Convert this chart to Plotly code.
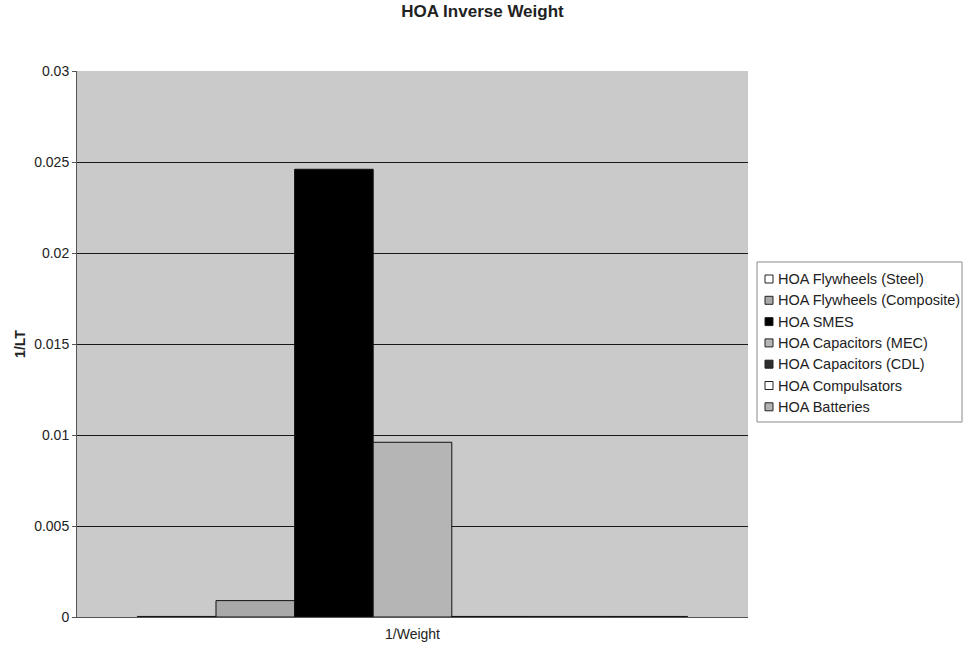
import plotly.graph_objects as go

# Single category on the x axis
categories = ["1/Weight"]

# Series names and their 1/LT values
series_names = [
    "HOA Flywheels (Steel)",
    "HOA Flywheels (Composite)",
    "HOA SMES",
    "HOA Capacitors (MEC)",
    "HOA Capacitors (CDL)",
    "HOA Compulsators",
    "HOA Batteries",
]
series_values = [0.00003, 0.0009, 0.0246, 0.0096, 0.00003, 0.00003, 0.00003]

# Fill colour for each series
series_colors = ["#ffffff", "#a9a9a9", "#000000", "#b5b5b5", "#2e2e2e", "#ffffff", "#b3b3b3"]

W, H = 965, 648
M_L, M_R, M_T, M_B = 77, 217, 71, 31
PW, PH = W - M_L - M_R, H - M_T - M_B


def px_x(px):
    """Pixel column -> paper x."""
    return (px - M_L) / PW


def px_y(py):
    """Pixel row (from top) -> paper y."""
    return (H - M_B - py) / PH


fig = go.Figure()
for name, val, col in zip(series_names, series_values, series_colors):
    fig.add_trace(go.Bar(
        x=categories,
        y=[val],
        name=name,
        marker=dict(color=col, line=dict(color="#111111", width=1)),
        showlegend=False,
    ))

font_family = "Liberation Sans, Arial, sans-serif"
text_color = "#222222"

# Boxed legend to the right of the plot
shapes = []
annotations = []
box_l, box_r, box_t, box_b = 757, 962, 262, 422
shapes.append(dict(
    type="rect", xref="paper", yref="paper",
    x0=px_x(box_l), x1=px_x(box_r), y0=px_y(box_b), y1=px_y(box_t),
    line=dict(color="#8a8a8a", width=1), fillcolor="#ffffff", layer="above",
))
row0, row_step = 279, 21.3
for i, (name, col) in enumerate(zip(series_names, series_colors)):
    cy = row0 + i * row_step
    shapes.append(dict(
        type="rect", xref="paper", yref="paper",
        x0=px_x(765), x1=px_x(773), y0=px_y(cy + 4), y1=px_y(cy - 4),
        line=dict(color="#222222", width=1), fillcolor=col, layer="above",
    ))
    annotations.append(dict(
        text=name, xref="paper", yref="paper",
        x=px_x(776), y=px_y(cy), xanchor="left", yanchor="middle",
        showarrow=False, font=dict(size=14.5, color=text_color),
    ))

fig.update_layout(
    width=W,
    height=H,
    margin=dict(l=M_L, r=M_R, t=M_T, b=M_B, autoexpand=False),
    paper_bgcolor="#ffffff",
    plot_bgcolor="#cacaca",
    barmode="group",
    bargap=0.18,
    bargroupgap=0,
    font=dict(family=font_family, size=14, color=text_color),
    title=dict(
        text="<b>HOA Inverse Weight</b>",
        x=0.5, xref="container", xanchor="center",
        y=0.992, yref="container", yanchor="top",
        font=dict(size=17, color=text_color),
    ),
    showlegend=False,
    shapes=shapes,
    annotations=annotations,
)

fig.update_xaxes(
    showgrid=False,
    showline=True, linecolor="#555555", linewidth=1,
    ticks="", tickfont=dict(size=14),
    ticklabelstandoff=4,
    automargin=False,
)
fig.update_yaxes(
    range=[0, 0.03],
    tickvals=[0, 0.005, 0.01, 0.015, 0.02, 0.025, 0.03],
    ticktext=["0", "0.005", "0.01", "0.015", "0.02", "0.025", "0.03"],
    showgrid=True, gridcolor="#1a1a1a", gridwidth=1,
    showline=True, linecolor="#555555", linewidth=1,
    ticks="outside", ticklen=4, tickcolor="#555555",
    tickfont=dict(size=14),
    title=dict(text="<b>1/LT</b>", font=dict(size=14), standoff=5),
    zeroline=False,
    automargin=False,
)

fig.write_html("out.html")
